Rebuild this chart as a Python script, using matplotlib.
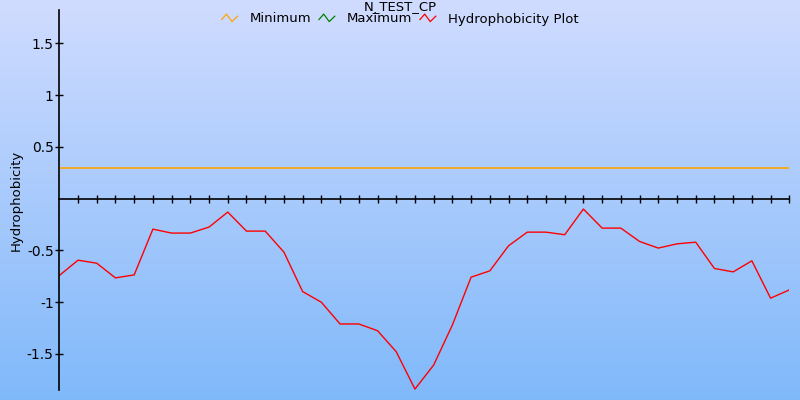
import numpy as np
import matplotlib
matplotlib.use("Agg")
import matplotlib.pyplot as plt
from matplotlib.legend_handler import HandlerBase
from matplotlib.lines import Line2D
from matplotlib.colors import LinearSegmentedColormap

plt.rcParams['axes.unicode_minus'] = False
plt.rcParams['font.family'] = 'DejaVu Sans'

# data
positions = list(range(40))
hydro = [-0.742, -0.594, -0.623, -0.765, -0.736, -0.294, -0.332, -0.332, -0.274, -0.129,
         -0.313, -0.313, -0.516, -0.897, -1.0, -1.21, -1.21, -1.275, -1.478, -1.839,
         -1.607, -1.22, -0.758, -0.697, -0.455, -0.323, -0.323, -0.348, -0.1, -0.284,
         -0.284, -0.413, -0.477, -0.436, -0.42, -0.674, -0.707, -0.6, -0.961, -0.881]
minimum = 0.3
y_ticks = [-1.5, -1.0, -0.5, 0.5, 1.0, 1.5]
y_labels = ['-1.5', '-1', '-0.5', '0.5', '1', '1.5']


class ZigZag(HandlerBase):
    # little "/\/" icon like the original legend
    def create_artists(self, legend, orig, xd, yd, w, h, fs, trans):
        xs = np.array([0, 0.3, 0.65, 1.0]) * w - xd
        ys = np.array([0.3, 0.95, 0.05, 0.7]) * h - yd
        ln = Line2D(xs, ys, color=orig.get_color(), lw=0.9, transform=trans)
        return [ln]


fig = plt.figure(figsize=(8, 4), dpi=100)

# gradient background
bg = fig.add_axes([0, 0, 1, 1], zorder=-1)
cmap = LinearSegmentedColormap.from_list('bg', ['#d0dcff', '#a8cafc', '#80b9fa'])
bg.imshow(np.linspace(0, 1, 256).reshape(-1, 1), aspect='auto', cmap=cmap,
          extent=[0, 1, 0, 1])
bg.axis('off')

ax = fig.add_axes([59.3 / 800, 10 / 400, 730 / 800, 380 / 400])
ax.patch.set_alpha(0)

ax.axhline(minimum, color='#ffa500', lw=1.2)
ax.plot(positions, hydro, color='red', lw=1)

ax.set_xlim(0, 39)
ax.set_ylim(-1.848, 1.823)

ax.spines['top'].set_visible(False)
ax.spines['right'].set_visible(False)
ax.spines['bottom'].set_position(('data', 0))
ax.spines['left'].set_linewidth(1.2)
ax.spines['bottom'].set_linewidth(1.2)

ax.set_xticks(positions[1:])
ax.set_xticklabels([])
ax.tick_params(axis='x', direction='inout', length=6, width=1)
ax.set_yticks(y_ticks)
ax.set_yticklabels(y_labels)
ax.tick_params(axis='y', direction='inout', length=6, width=1, labelsize=10, pad=1)

fig.text(16 / 800, 0.5, 'Hydrophobicity', rotation=90, ha='center', va='center', fontsize=9.5)
fig.text(0.5, 1 - 0.5 / 400, 'N_TEST_CP', ha='center', va='top', fontsize=9.5)

h_min = Line2D([], [], color='#ffa500')
h_max = Line2D([], [], color='green')
h_hyd = Line2D([], [], color='red')
fig.legend([h_min, h_max, h_hyd], ['Minimum', 'Maximum', 'Hydrophobicity Plot'],
           handler_map={Line2D: ZigZag()}, loc='center', bbox_to_anchor=(0.5, 1 - 19 / 400),
           ncol=3, frameon=False, fontsize=9.5, handlelength=1.2, handleheight=0.6,
           handletextpad=0.9, columnspacing=0.6, borderpad=0)

fig.savefig('out.png', dpi=100)
